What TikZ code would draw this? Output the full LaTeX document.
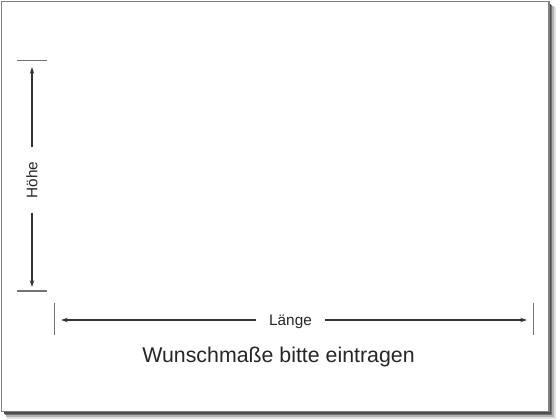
\documentclass[tikz,border=0pt]{standalone}
\usepackage{fontspec}
\setmainfont{Liberation Sans}
\usetikzlibrary{arrows.meta}
\tikzset{
  dimline/.style={draw=black!80, line width=0.8pt, -{Stealth[length=5pt,width=3.2pt]}},
  tickline/.style={draw=black!55, line width=0.8pt},
  dimlabel/.style={font=\fontsize{11.5pt}{13pt}\selectfont, text=black!85, inner ysep=1pt}
}
\begin{document}
\begin{tikzpicture}[x=0.75pt,y=-0.75pt]
\useasboundingbox (0,0) rectangle (560,420);
% shadow of the card
\fill[black!12] (7,7) rectangle (556,419);
\fill[black!30] (6,6) rectangle (554,417);
\fill[black!55] (5,5) rectangle (552,415);
\fill[black!70] (4,4) rectangle (551,413.5);
% card
\filldraw[fill=white, draw=black!50, line width=0.9pt] (1.5,1.5) rectangle (549,411.5);
% height
\draw[tickline] (17,60.5)--(47,60.5);
\draw[tickline] (17,291)--(47,291);
\coordinate (htop) at (32,67);
\coordinate (hbot) at (32,287);
\node[dimlabel, rotate=90, inner xsep=10.5pt] (hoehe) at (32,180) {Höhe};
\draw[dimline] (hoehe) -- (htop);
\draw[dimline] (hoehe) -- (hbot);
% length
\draw[tickline] (54.5,303)--(54.5,335);
\draw[tickline] (533.5,303)--(533.5,335);
\coordinate (lleft) at (61,320);
\coordinate (lright) at (527,320);
\node[dimlabel, inner xsep=9.5pt] (laenge) at (290.5,321.5) {Länge};
\draw[dimline] (laenge.west |- lleft) -- (lleft);
\draw[dimline] (laenge.east |- lright) -- (lright);
% caption
\node[anchor=base, font=\fontsize{16pt}{19pt}\selectfont, text=black!85] (wunsch) at (278.5,362) {Wunschmaße bitte eintragen};
\end{tikzpicture}
\end{document}
